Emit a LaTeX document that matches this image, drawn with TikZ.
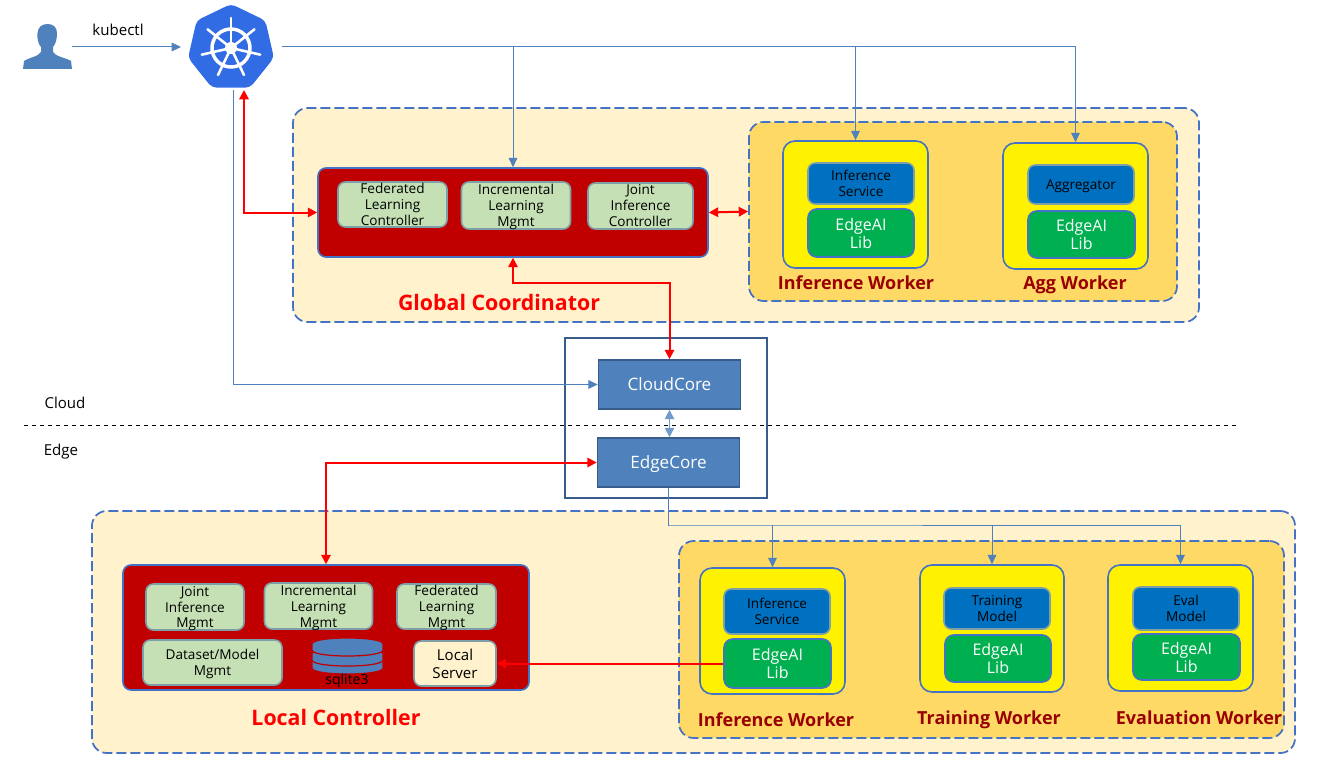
\documentclass[tikz,border=0pt]{standalone}
\usepackage{fontspec}
\setmainfont{Open Sans}
\usetikzlibrary{positioning,arrows.meta,calc,shapes.geometric}

\definecolor{linkblue}{HTML}{4F81BD}
\definecolor{edgeblue}{HTML}{4472C4}
\definecolor{coreline}{HTML}{385D8A}
\definecolor{lightcream}{HTML}{FFF2CC}
\definecolor{darkcream}{HTML}{FFD966}
\definecolor{ctlred}{HTML}{C00000}
\definecolor{mgmtgreen}{HTML}{C5E0B4}
\definecolor{mgmtline}{HTML}{7F9FA8}
\definecolor{svcblue}{HTML}{0070C0}
\definecolor{libgreen}{HTML}{00B050}
\definecolor{workerred}{HTML}{990000}
\definecolor{kubeblue}{HTML}{326CE5}

\tikzset{
  wh/.style 2 args={minimum width=#1*0.75pt,minimum height=#2*0.75pt,inner sep=0pt,align=center},
  zone/.style={draw=edgeblue,line width=1.3pt,dash pattern=on 7.5pt off 3pt,rounded corners=11pt},
  ctlbox/.style={draw=edgeblue,line width=1.2pt,fill=ctlred,rounded corners=6pt},
  workerbox/.style={draw=edgeblue,line width=1.2pt,fill=yellow,rounded corners=9pt},
  mgmtbox/.style={draw=mgmtline,line width=1.2pt,fill=mgmtgreen,rounded corners=5.5pt,text depth=0pt,font=\fontsize{10.2}{12}\selectfont},
  svcbox/.style={draw=mgmtline,line width=1.2pt,fill=svcblue,rounded corners=5.5pt,font=\fontsize{10.2}{12}\selectfont},
  libbox/.style={draw=edgeblue,line width=1.2pt,fill=libgreen,rounded corners=6.5pt,text=white,font=\fontsize{12}{13.5}\selectfont},
  corebox/.style={draw=coreline,line width=1.2pt,fill=linkblue,text=white,text depth=0pt,font=\fontsize{12.8}{14}\selectfont},
  worker/.style={text=workerred,font=\fontsize{13.5}{16}\selectfont\bfseries},
  title/.style={text=red,font=\fontsize{16}{19}\selectfont\bfseries},
  plain/.style={font=\fontsize{11.3}{13}\selectfont},
  flow/.style={draw=linkblue,line width=0.75pt,-{Triangle[length=7pt,width=6.5pt]}},
  call/.style={draw=red,line width=1.5pt,{Triangle[length=7pt,width=7pt]}-{Triangle[length=7pt,width=7pt]}},
}

\begin{document}
\begin{tikzpicture}[x=0.75pt,y=-0.75pt]
  \useasboundingbox (0,0) rectangle (1333,774);

  % cloud side
  \node[zone,fill=lightcream,wh={906}{214}] (cloudzone) at (746,215) {};
  \node[zone,fill=darkcream,wh={428}{179}] (cloudworkers) at (963,211.5) {};
  \node[ctlbox,wh={390}{89}] (global) at (513,212.5) {};
  \node[mgmtbox,wh={109}{45}] (fedctl) at (392.5,204.5) {Federated\\Learning\\Controller};
  \node[mgmtbox,wh={109}{47}] (incctl) at (516,205.5) {Incremental\\Learning\\Mgmt};
  \node[mgmtbox,wh={105}{46}] (jointctl) at (640.5,206) {Joint\\Inference\\Controller};
  \node[title] (globallabel) at (499,302) {Global Coordinator};

  \node[workerbox,wh={145}{127}] (infcloud) at (855.5,204.5) {};
  \node[svcbox,wh={106}{41}] (infsvc) at (861,183.5) {Inference\\Service};
  \node[libbox,wh={106}{48}] (inflib) at (861,233) {EdgeAI\\Lib};
  \node[worker] (inflabel) at (856,283) {Inference Worker};
  \node[workerbox,wh={145}{126}] (aggworker) at (1075.5,206) {};
  \node[svcbox,text depth=0pt,wh={106}{39}] (aggsvc) at (1081,184.5) {Aggregator};
  \node[libbox,wh={107}{47}] (agglib) at (1081.5,234.5) {EdgeAI\\Lib};
  \node[worker] (agglabel) at (1075,285) {Agg Worker};

  % core
  \node[draw=coreline,line width=1.2pt,wh={202}{160}] (corebound) at (666,418) {};
  \node[corebox,wh={142}{49}] (cloudcore) at (669.5,384.5) {CloudCore};
  \node[corebox,wh={142}{49}] (edgecore) at (668.5,462.5) {EdgeCore};

  \coordinate (sepL) at (24,425);
  \coordinate (sepR) at (1237,425);
  \draw[dashed,line width=0.6pt] (sepL) -- (sepR);
  \node[plain] (cloudtext) at (65,403) {Cloud};
  \node[plain] (edgetext) at (61,452) {Edge};

  % edge side
  \node[zone,fill=lightcream,wh={1203}{242}] (edgezone) at (693.5,632) {};
  \node[zone,fill=darkcream,wh={605}{197}] (edgeworkers) at (981.5,639.5) {};
  \node[ctlbox,wh={406}{125}] (local) at (326,627.5) {};
  \node[mgmtbox,wh={98}{46}] (jointmgmt) at (195,607) {Joint\\Inference\\Mgmt};
  \node[mgmtbox,wh={108}{46}] (incmgmt) at (318.5,606) {Incremental\\Learning\\Mgmt};
  \node[mgmtbox,wh={99}{45}] (fedmgmt) at (446.5,606.5) {Federated\\Learning\\Mgmt};
  \node[mgmtbox,wh={139}{45}] (datamgmt) at (212.5,662.5) {Dataset/Model\\Mgmt};
  \node[mgmtbox,fill=lightcream,wh={82}{45},font=\fontsize{11.3}{13.5}\selectfont] (server) at (455,663.5) {Local\\Server};
  \foreach \y in {668,660,650}
    \draw[draw=ctlred,line width=0.9pt,fill=linkblue] (312,\y-6) -- (312,\y)
      .. controls (312,\y+8) and (383,\y+8) .. (383,\y) -- (383,\y-6)
      .. controls (383,\y-14) and (312,\y-14) .. (312,\y-6) -- cycle;
  \node[plain,font=\fontsize{10.5}{12}\selectfont] (sqlite) at (347,681) {sqlite3};
  \node[title] (locallabel) at (336,717) {Local Controller};

  \node[workerbox,wh={145}{126}] (infedge) at (772.5,631) {};
  \node[svcbox,wh={106}{45}] (infsvcedge) at (777,611.5) {Inference\\Service};
  \node[libbox,wh={107}{49}] (inflibedge) at (777.5,663.5) {EdgeAI\\Lib};
  \node[worker] (infedgelabel) at (776,720) {Inference Worker};
  \node[workerbox,wh={144}{127}] (trainworker) at (992,628.5) {};
  \node[svcbox,wh={106}{41}] (trainsvc) at (997,608.5) {Training\\Model};
  \node[libbox,wh={106}{47}] (trainlib) at (998,658.5) {EdgeAI\\Lib};
  \node[worker] (trainlabel) at (989,720) {Training Worker};
  \node[workerbox,wh={145}{126}] (evalworker) at (1180.5,628) {};
  \node[svcbox,wh={106}{43}] (evalsvc) at (1186,608.5) {Eval\\Model};
  \node[libbox,wh={107}{46}] (evallib) at (1186.5,657) {EdgeAI\\Lib};
  \node[worker] (evallabel) at (1199,718) {Evaluation Worker};

  % user and kubernetes logo
  \fill[linkblue] (23,69) -- (24,61) .. controls (30,57) and (38,57) .. (41,52) -- (41,47)
    .. controls (38,44) and (37,38) .. (37.5,33) .. controls (38,27) and (42,24) .. (47.5,24)
    .. controls (53,24) and (57,27) .. (57,33) .. controls (57,38) and (56,44) .. (53,47) -- (53,52)
    .. controls (56,57) and (64,57) .. (71,61) -- (72,69) -- cycle;
  \coordinate (user) at (72,47);
  \node[regular polygon,regular polygon sides=7,fill=kubeblue,rounded corners=3.5pt,inner sep=0pt,minimum size=66pt] (kube) at (231,48) {};
  \draw[white,line width=2.6pt] (kube.center) circle (19);
  \fill[white] (kube.center) circle (6);
  \fill[kubeblue] (kube.center) circle (2.8);
  \foreach \a in {0,1,...,6}
    \draw[white,line width=1.9pt,line cap=round] (kube.center) -- ++({-90+\a*360/7}:30);
  \node[plain] (kubectl) at (118,30) {kubectl};

  % links
  \coordinate (kubeIn) at (181,47);
  \coordinate (kubeOut) at (282,47);
  \coordinate (kubeDown) at (233,90);
  \coordinate (kubeCall) at (244,90);
  \coordinate (edgeBus) at (670,525);
  \draw[flow] (user) -- (kubeIn);
  \draw[flow] (kubeOut) -| (aggworker.north);
  \draw[flow] (kubeOut -| global.north) -- (global.north);
  \draw[flow] (kubeOut -| infcloud.north) -- (infcloud.north);
  \draw[flow] (kubeDown) |- (cloudcore.west);
  \draw[flow] (edgecore.south) |- (edgeBus) -| (evalworker.north);
  \draw[flow] (edgeBus -| infedge.north) -- (infedge.north);
  \draw[flow] (edgeBus -| trainworker.north) -- (trainworker.north);
  \draw[draw=linkblue!80!white,line width=1pt,{Triangle[length=7pt,width=7pt]}-{Triangle[length=7pt,width=7pt]}] (cloudcore.south) -- (cloudcore.south |- edgecore.north);

  \draw[call] (kubeCall) |- (global.west);
  \draw[call] (global.east) -- (cloudworkers.west);
  \draw[call] (global.south) -- ++(0,25) -| (cloudcore.north);
  \draw[call] (local.north) |- (edgecore.west);
  \draw[draw=red,line width=1.5pt,-{Triangle[length=7pt,width=7pt]}] (inflibedge.west) -- (server.east);
\end{tikzpicture}
\end{document}
